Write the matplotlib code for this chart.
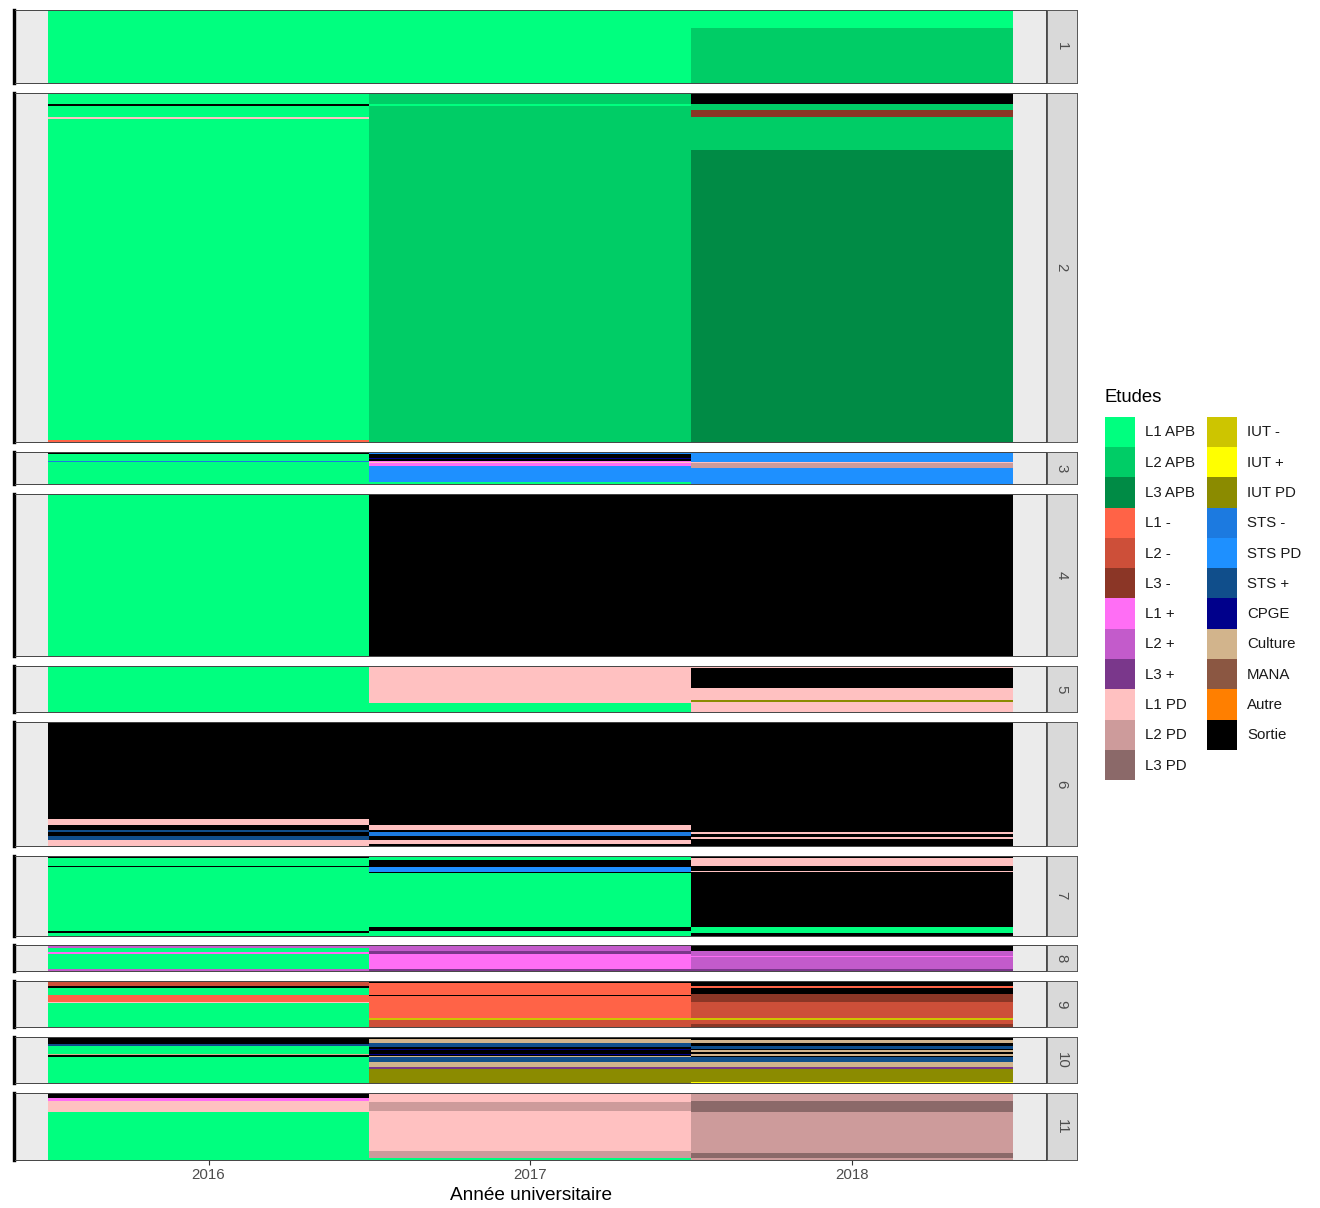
import matplotlib.pyplot as plt
from matplotlib.patches import Patch

plt.rcParams["font.family"] = ["Liberation Sans", "DejaVu Sans"]

YEARS = [2016, 2017, 2018]

STATES = ["L1 APB", "L2 APB", "L3 APB", "L1 -", "L2 -", "L3 -",
          "L1 +", "L2 +", "L3 +", "L1 PD", "L2 PD", "L3 PD",
          "IUT -", "IUT +", "IUT PD", "STS -", "STS PD", "STS +",
          "CPGE", "Culture", "MANA", "Autre", "Sortie"]
STATE_COLORS = ["#00FF7F", "#00CD66", "#008B45", "#FF6347", "#CD4F39", "#8B3626",
                "#FF6EF5", "#C35BCB", "#7A378B", "#FFC1C1", "#CD9B9B", "#8B6969",
                "#CDC500", "#FFFF00", "#8B8B00", "#1C7AE0", "#1E90FF", "#104E8B",
                "#00008B", "#D2B48C", "#8B5742", "#FF7F00", "#000000"]

# one row = (2016, 2017, 2018, nb of students), listed top to bottom
cluster_1 = [("L1 APB", "L1 APB", "L1 APB", 18),
             ("L1 APB", "L1 APB", "L2 APB", 55)]
cluster_2 = [("L1 APB", "L2 APB", "Sortie", 11),
             ("Sortie", "L1 APB", "L2 APB", 2),
             ("L1 APB", "L2 APB", "L2 APB", 4),
             ("L1 APB", "L2 APB", "L3 -", 7),
             ("L1 PD", "L2 APB", "L2 APB", 2),
             ("L1 APB", "L2 APB", "L2 APB", 31),
             ("L1 APB", "L2 APB", "L3 APB", 290),
             ("L1 -", "L2 APB", "L3 APB", 3)]
cluster_3 = [("Sortie", "STS PD", "STS PD", 2),
             ("L1 APB", "Sortie", "STS PD", 4),
             ("L1 APB", "CPGE", "STS PD", 1),
             ("L1 APB", "Sortie", "STS PD", 2),
             ("STS -", "L1 +", "STS PD", 1),
             ("L1 APB", "L1 PD", "L1 PD", 1),
             ("L1 APB", "L1 +", "L2 PD", 3),
             ("L1 APB", "STS PD", "L2 PD", 2),
             ("L1 APB", "STS PD", "STS PD", 14),
             ("L1 APB", "L1 APB", "STS PD", 2)]
cluster_4 = [("L1 APB", "Sortie", "Sortie", 162)]
cluster_5 = [("L1 APB", "L1 PD", "L1 PD", 2),
             ("L1 APB", "L1 PD", "Sortie", 20),
             ("L1 APB", "L1 PD", "L1 PD", 12),
             ("L1 APB", "L1 PD", "IUT PD", 2),
             ("L1 APB", "L1 PD", "L1 PD", 1),
             ("L1 APB", "L1 APB", "L1 PD", 9)]
cluster_6 = [("Sortie", "Sortie", "Sortie", 97),
             ("L1 PD", "Sortie", "Sortie", 6),
             ("Sortie", "L1 PD", "Sortie", 5),
             ("STS +", "Sortie", "Sortie", 2),
             ("Sortie", "STS -", "L1 PD", 2),
             ("Sortie", "STS -", "Sortie", 2),
             ("STS +", "Sortie", "Sortie", 1),
             ("STS +", "Sortie", "L1 PD", 2),
             ("STS +", "Sortie", "Sortie", 1),
             ("L1 PD", "L1 PD", "Sortie", 4),
             ("L1 PD", "Sortie", "Sortie", 2)]
cluster_7 = [("Sortie", "L1 APB", "Sortie", 2),
             ("L1 APB", "L1 APB", "L1 PD", 2),
             ("L1 APB", "Sortie", "L1 PD", 6),
             ("Sortie", "Sortie", "Sortie", 1),
             ("L1 APB", "STS PD", "Sortie", 4),
             ("L1 APB", "STS PD", "L1 PD", 1),
             ("L1 APB", "Sortie", "Sortie", 1),
             ("L1 APB", "L1 APB", "Sortie", 54),
             ("L1 APB", "Sortie", "L1 APB", 4),
             ("Sortie", "L1 APB", "L1 APB", 2),
             ("L1 APB", "L1 APB", "Sortie", 3)]
cluster_8 = [("L2 +", "L2 +", "Sortie", 3),
             ("L1 APB", "L2 +", "Sortie", 3),
             ("L1 APB", "L3 +", "L2 +", 1),
             ("L1 +", "L3 +", "L2 +", 2),
             ("L1 APB", "L1 +", "L2 +", 2),
             ("L1 APB", "L1 +", "L1 +", 1),
             ("L1 APB", "L1 +", "L2 +", 12),
             ("L2 +", "L3 +", "L3 +", 2)]
cluster_9 = [("L3 -", "Sortie", "Sortie", 1),
             ("L2 -", "Sortie", "Sortie", 1),
             ("L2 -", "L1 -", "Sortie", 3),
             ("Sortie", "L1 -", "L1 -", 2),
             ("L1 APB", "L1 -", "Sortie", 6),
             ("L1 APB", "L1 -", "L3 -", 1),
             ("L1 -", "Sortie", "L3 -", 1),
             ("L1 -", "L1 -", "L3 -", 6),
             ("L1 PD", "L1 -", "L2 -", 1),
             ("L1 APB", "L1 -", "L2 -", 15),
             ("L1 APB", "IUT -", "IUT -", 2),
             ("L1 APB", "L2 -", "L2 -", 4),
             ("L1 APB", "L2 -", "L3 -", 3)]
cluster_10 = [("Sortie", "Sortie", "Sortie", 2),
              ("Sortie", "Culture", "Sortie", 1),
              ("Sortie", "Culture", "Culture", 3),
              ("Sortie", "STS +", "Sortie", 1),
              ("STS +", "STS +", "Sortie", 2),
              ("L1 APB", "STS +", "STS +", 1),
              ("L1 APB", "Sortie", "STS +", 2),
              ("L1 APB", "CPGE", "Sortie", 1),
              ("L1 APB", "Sortie", "Culture", 2),
              ("L1 APB", "Sortie", "Sortie", 2),
              ("Culture", "CPGE", "Culture", 1),
              ("Sortie", "Sortie", "Culture", 1),
              ("Sortie", "Culture", "Sortie", 1),
              ("L1 APB", "STS +", "STS +", 5),
              ("L1 APB", "Culture", "Culture", 5),
              ("L1 APB", "L3 +", "L3 +", 2),
              ("L1 APB", "IUT PD", "IUT PD", 13),
              ("L1 APB", "IUT PD", "IUT +", 1)]
cluster_11 = [("Sortie", "L1 PD", "L2 PD", 5),
              ("L1 +", "L1 PD", "L2 PD", 3),
              ("L1 PD", "L1 PD", "L3 PD", 1),
              ("L1 PD", "L2 PD", "L3 PD", 9),
              ("L1 PD", "L1 PD", "L3 PD", 1),
              ("L1 APB", "L1 PD", "L2 PD", 39),
              ("L1 APB", "L2 PD", "L2 PD", 2),
              ("L1 APB", "L2 PD", "L3 PD", 5),
              ("L1 APB", "L1 APB", "L2 PD", 2)]

CLUSTERS = [cluster_1, cluster_2, cluster_3, cluster_4, cluster_5, cluster_6,
            cluster_7, cluster_8, cluster_9, cluster_10, cluster_11]
CLUSTER_LABELS = ["1", "2", "3", "4", "5", "6", "7", "8", "9", "10", "11"]

W, H = 1320, 1208
PX = 0.72  # points per pixel at dpi 100

fig = plt.figure(figsize=(W / 100, H / 100), dpi=100)
color_of = dict(zip(STATES, STATE_COLORS))

totals = [sum(r[3] for r in rows) for rows in CLUSTERS]
top, bottom, gap = 10, 1160, 9.9
px_per_row = (bottom - top - gap * (len(CLUSTERS) - 1)) / sum(totals)
left, right = 15.4, 1045.5
strip_l, strip_r = 1046.5, 1076.5

y = top
for k, (label, rows) in enumerate(zip(CLUSTER_LABELS, CLUSTERS)):
    h = totals[k] * px_per_row
    ax = fig.add_axes([left / W, 1 - (y + h) / H, (right - left) / W, h / H])
    ax.set_facecolor("#EBEBEB")
    start = 0
    for *states, n in rows:
        ax.bar(YEARS, n, bottom=start, width=1.0,
               color=[color_of[s] for s in states],
               linewidth=0, antialiased=False)
        start += n
    ax.set_xlim(2015.4, 2018.6)
    ax.set_ylim(start, 0)
    ax.set_yticks([])
    for side in ["top", "bottom", "right"]:
        ax.spines[side].set_color("#444444")
        ax.spines[side].set_linewidth(0.7)
    ax.spines["left"].set_color("black")
    ax.spines["left"].set_linewidth(3.4 * PX)
    ax.spines["left"].set_position(("outward", 1.7 * PX))

    if k == len(CLUSTERS) - 1:
        ax.set_xticks(YEARS)
        ax.set_xticklabels([str(v) for v in YEARS])
        ax.tick_params(axis="x", length=4.6 * PX, width=0.8, color="#333333",
                       labelsize=15 * PX, labelcolor="#4D4D4D", pad=3 * PX)
    else:
        ax.set_xticks([])

    # facet strip on the right
    sx = fig.add_axes([strip_l / W, 1 - (y + h) / H, (strip_r - strip_l) / W, h / H])
    sx.set_facecolor("#D9D9D9")
    sx.set_xticks([])
    sx.set_yticks([])
    for sp in sx.spines.values():
        sp.set_color("#555555")
        sp.set_linewidth(0.7)
    sx.text(0.5, 0.5, label, rotation=-90, ha="center", va="center",
            fontsize=15 * PX, color="#4D4D4D", transform=sx.transAxes)

    y += h + gap

fig.text(531 / W, 1 - 1196 / H, "Année universitaire", ha="center", va="center",
         fontsize=19 * PX, color="black")

# legend
fig.text(1105 / W, 1 - 398 / H, "Etudes", ha="left", va="center",
         fontsize=18.5 * PX, color="black")
handles = [Patch(facecolor=c, edgecolor="none", label=s)
           for s, c in zip(STATES, STATE_COLORS)]
fig.legend(handles=handles, loc="upper left",
           bbox_to_anchor=(1105 / W, 1 - 416.7 / H), ncol=2, frameon=False,
           fontsize=15 * PX, handlelength=2.0, handleheight=2.73,
           handletextpad=0.67, labelspacing=0, columnspacing=0.8,
           borderpad=0, borderaxespad=0, labelcolor="#1A1A1A")

fig.savefig("out.png", dpi=100)
